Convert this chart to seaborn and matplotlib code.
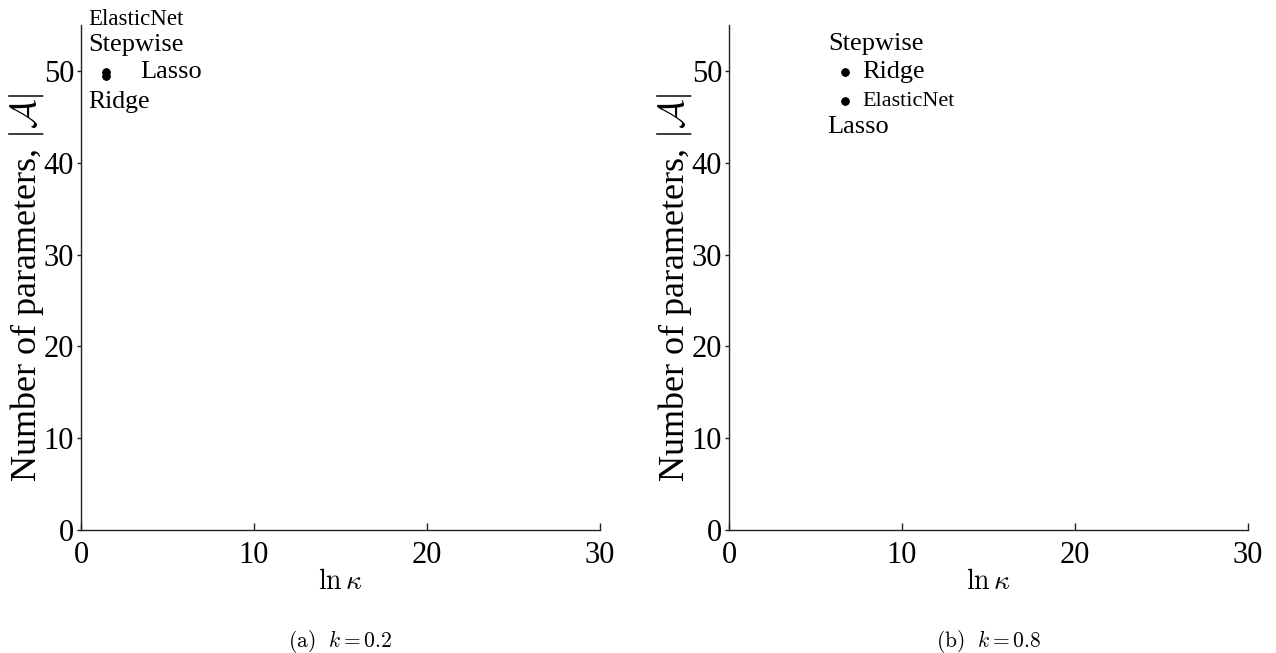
import pandas as pd
import matplotlib
matplotlib.use('Agg')
import matplotlib.pyplot as plt
import seaborn as sns

sns.set_style('white')
plt.rcParams['font.family'] = ['Liberation Serif', 'DejaVu Serif']
plt.rcParams['mathtext.fontset'] = 'cm'
plt.rcParams['text.color'] = 'black'
plt.rcParams['axes.labelcolor'] = 'black'
plt.rcParams['xtick.color'] = 'black'
plt.rcParams['ytick.color'] = 'black'

# data
methods_a = ['Stepwise', 'Lasso', 'Ridge', 'ElasticNet']
ln_kappa_a = [1.45, 1.45, 1.45, 1.45]
n_params_a = [49.85, 49.4, 49.4, 49.85]

methods_b = ['Stepwise', 'Ridge', 'ElasticNet', 'Lasso']
ln_kappa_b = [6.7, 6.7, 6.7, 6.7]
n_params_b = [49.9, 49.9, 46.7, 46.7]

captions = [r'$\mathrm{(a)}\ \ k=0.2$', r'$\mathrm{(b)}\ \ k=0.8$']

# label placement (offset pixels, font size)
label_style_a = {'ElasticNet': (-18, 53, 16.5), 'Stepwise': (-18, 27, 19),
                 'Lasso': (34, 4, 19), 'Ridge': (-18, -26, 18.5)}
label_style_b = {'Stepwise': (-17, 28, 19), 'Ridge': (17, 0, 18.8),
                 'ElasticNet': (17, 0, 16), 'Lasso': (-18, -26, 19)}

df_a = pd.DataFrame({'method': methods_a, 'ln_kappa': ln_kappa_a, 'n_params': n_params_a})
df_b = pd.DataFrame({'method': methods_b, 'ln_kappa': ln_kappa_b, 'n_params': n_params_b})

fig = plt.figure(figsize=(12.76, 6.53), dpi=100)
ax_a = fig.add_axes([0.0635, 0.1884, 0.4067, 0.7734])
ax_b = fig.add_axes([0.5713, 0.1884, 0.4067, 0.7734])

for ax, df, styles, cap in [(ax_a, df_a, label_style_a, captions[0]),
                            (ax_b, df_b, label_style_b, captions[1])]:
    sns.scatterplot(data=df, x='ln_kappa', y='n_params', ax=ax, color='black',
                    s=36, edgecolor='black', linewidth=0, legend=False)
    for _, row in df.iterrows():
        dx, dy, fs = styles[row['method']]
        ax.annotate(row['method'], (row['ln_kappa'], row['n_params']),
                    xytext=(dx, dy), textcoords='offset pixels',
                    ha='left', va='center', fontsize=fs)
    ax.set_xlim(0, 30)
    ax.set_ylim(0, 55)
    ax.set_xticks([0, 10, 20, 30])
    ax.set_yticks([0, 10, 20, 30, 40, 50])
    sns.despine(ax=ax)
    for sp in ['left', 'bottom']:
        ax.spines[sp].set_color('#222222')
        ax.spines[sp].set_linewidth(1.0)
    ax.tick_params(axis='x', direction='in', length=5, width=1, pad=8,
                   labelsize=22, bottom=True, color='#222222')
    ax.tick_params(axis='y', direction='out', length=3, width=1, pad=2,
                   labelsize=22, left=True, color='#222222')
    ax.set_xlabel(r'$\ln\kappa$', fontsize=20, labelpad=0)
    ax.set_ylabel(r'Number of parameters, $|\mathcal{A}|$', fontsize=26, labelpad=-2)
    ax.yaxis.label.set_y(0.48)
    ax.text(0.5, -0.22, cap, transform=ax.transAxes, ha='center', va='center',
            fontsize=15.5)

fig.savefig('out.png', dpi=100)
